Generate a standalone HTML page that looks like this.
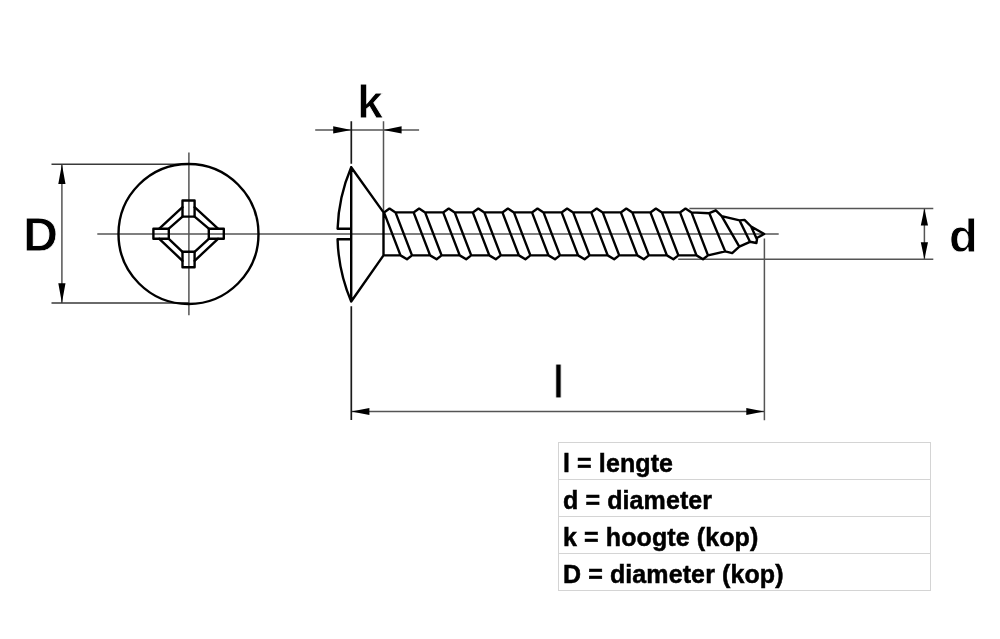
<!DOCTYPE html>
<html><head><meta charset="utf-8"><style>
html,body{margin:0;padding:0;background:#fff;width:1000px;height:639px;overflow:hidden;position:relative}
svg{position:absolute;left:0;top:0}
.big{position:absolute;font-family:"Liberation Sans",sans-serif;font-weight:bold;font-size:47px;line-height:48px;color:#000;-webkit-text-stroke:0.8px #fff;will-change:transform}
.row{position:absolute;left:562.5px;white-space:nowrap;font-family:"Liberation Sans",sans-serif;font-weight:bold;font-size:25px;line-height:36px;color:#000;-webkit-text-stroke:0.5px #000;letter-spacing:0.1px;will-change:transform}
</style></head><body>
<svg width="1000" height="639" viewBox="0 0 1000 639">
<path d="M97.3 234L778.7 234M188.9 152.6L188.9 315.2M61.9 164.2L61.9 303M315.2 129.9L419.1 129.9M383.5 121.3L383.5 212M764.4 238.5L764.4 420.3M351.3 411.5L764.4 411.5M689.4 208.5L933.3 208.5M678.2 259.3L933.3 259.3M924.4 208.5L924.4 259.3" stroke="#555" stroke-width="1.5" fill="none"/><path d="M351.3 121.3V163.8M351.3 306.3V420" stroke="#1a1a1a" stroke-width="1.7" fill="none"/><path d="M51.5 164.3H189M51.5 303H189" stroke="#3a3a3a" stroke-width="1.5" fill="none"/><path d="M61.9 164.2L58.3 184L65.5 184ZM61.9 303L65.5 283.2L58.3 283.2ZM351.3 129.9L333.2 126.2L333.2 133.6ZM383.5 129.9L401.6 133.6L401.6 126.2ZM351.3 411.5L369.4 415.1L369.4 407.9ZM764.4 411.5L746.3 407.9L746.3 415.1ZM924.4 208.5L920.8 225.5L928 225.5ZM924.4 259.3L928 242.3L920.8 242.3Z" fill="#000"/><g stroke="#000" stroke-width="2.4" fill="none" stroke-linejoin="round" stroke-linecap="round"><circle cx="188.5" cy="234" r="70" /><rect x="182.5" y="200.5" width="12.1" height="16.1"/><rect x="153.4" y="228.7" width="15.4" height="10.1"/><rect x="208.8" y="228.7" width="15" height="10.1"/><rect x="182.5" y="251.8" width="12.1" height="15.5"/><path d="M182.5 207.2L159.3 228.7M182.5 216.6L168.8 228.7M194.6 207.2L218 228.7M194.6 216.6L208.8 228.7M159.3 238.8L182.5 260.8M168.8 238.8L182.5 251.8M218 238.8L194.6 260.8M208.8 238.8L194.6 251.8M351.2 167.3L351.2 301.5M351.2 167.3L383.5 212.4M351.2 301.5L383.5 255.4M383.5 212.4L383.5 255.4M351.2 167.3A171.2 171.2 0 0 0 337.59 228.8L351.2 228.8M351.2 239.2L337.57 239.2A171.2 171.2 0 0 0 351.2 301.5M383.5 212.4L384 212.4L389.5 208.6L395.5 212.4L413.6 212.4L419.1 208.6L425.1 212.4L443.2 212.4L448.7 208.6L454.7 212.4L472.8 212.4L478.3 208.6L484.3 212.4L502.4 212.4L507.9 208.6L513.9 212.4L532 212.4L537.5 208.6L543.5 212.4L561.6 212.4L567.1 208.6L573.1 212.4L591.2 212.4L596.7 208.6L602.7 212.4L620.8 212.4L626.3 208.6L632.3 212.4L650.4 212.4L655.9 208.6L661.9 212.4L680 212.4L685.5 208.6L691.5 212.4L709.3 213.2L715.8 210.3L721.7 216.1L739.6 220.4L744.5 219.9L751.1 226.5L764.2 234M383.5 255.4L400.5 255.4L407 259.2L412 255.4L430.1 255.4L436.6 259.2L441.6 255.4L459.7 255.4L466.2 259.2L471.2 255.4L489.3 255.4L495.8 259.2L500.8 255.4L518.9 255.4L525.4 259.2L530.4 255.4L548.5 255.4L555 259.2L560 255.4L578.1 255.4L584.6 259.2L589.6 255.4L607.7 255.4L614.2 259.2L619.2 255.4L637.3 255.4L643.8 259.2L648.8 255.4L666.9 255.4L673.4 259.2L678.4 255.4L696.5 255.4L703 259.2L708 255.4L725.2 251.4L732.2 253.1L739.3 246.7L750 241.8L756.4 243L757 239.4M384 212.4L400.5 255.4M395.5 212.4L412 255.4M413.6 212.4L430.1 255.4M425.1 212.4L441.6 255.4M443.2 212.4L459.7 255.4M454.7 212.4L471.2 255.4M472.8 212.4L489.3 255.4M484.3 212.4L500.8 255.4M502.4 212.4L518.9 255.4M513.9 212.4L530.4 255.4M532 212.4L548.5 255.4M543.5 212.4L560 255.4M561.6 212.4L578.1 255.4M573.1 212.4L589.6 255.4M591.2 212.4L607.7 255.4M602.7 212.4L619.2 255.4M620.8 212.4L637.3 255.4M632.3 212.4L648.8 255.4M650.4 212.4L666.9 255.4M661.9 212.4L678.4 255.4M680 212.4L696.5 255.4M691.5 212.4L708 255.4M709.3 213.2L725.2 251.4M721.7 216.1L739.3 246.7M739.6 220.4L750 241.8M751.1 226.5L757 239.4M756.8 238L764.2 234"/></g>
</svg>

<div class="big" style="left:23px;top:210.2px;font-size:48.5px">D</div>
<div class="big" style="left:356.5px;top:77.5px">k</div>
<div class="big" style="left:551.5px;top:357.5px;transform:scaleX(0.85);transform-origin:6px 0">l</div>
<div class="big" style="left:948.5px;top:211.5px">d</div>


<svg style="position:absolute;left:0;top:0" width="1000" height="639"><path d="M558 442.5H930.5M558 479.5H930.5M558 516.5H930.5M558 553.5H930.5M558 590.5H930.5M558.5 442V591M930.5 442V591" stroke="#d4d4d4" stroke-width="1" fill="none"/></svg>
<div class="row" style="top:445px">l = lengte</div>
<div class="row" style="top:482px">d = diameter</div>
<div class="row" style="top:519px">k = hoogte (kop)</div>
<div class="row" style="top:556px">D = diameter (kop)</div>

</body></html>
